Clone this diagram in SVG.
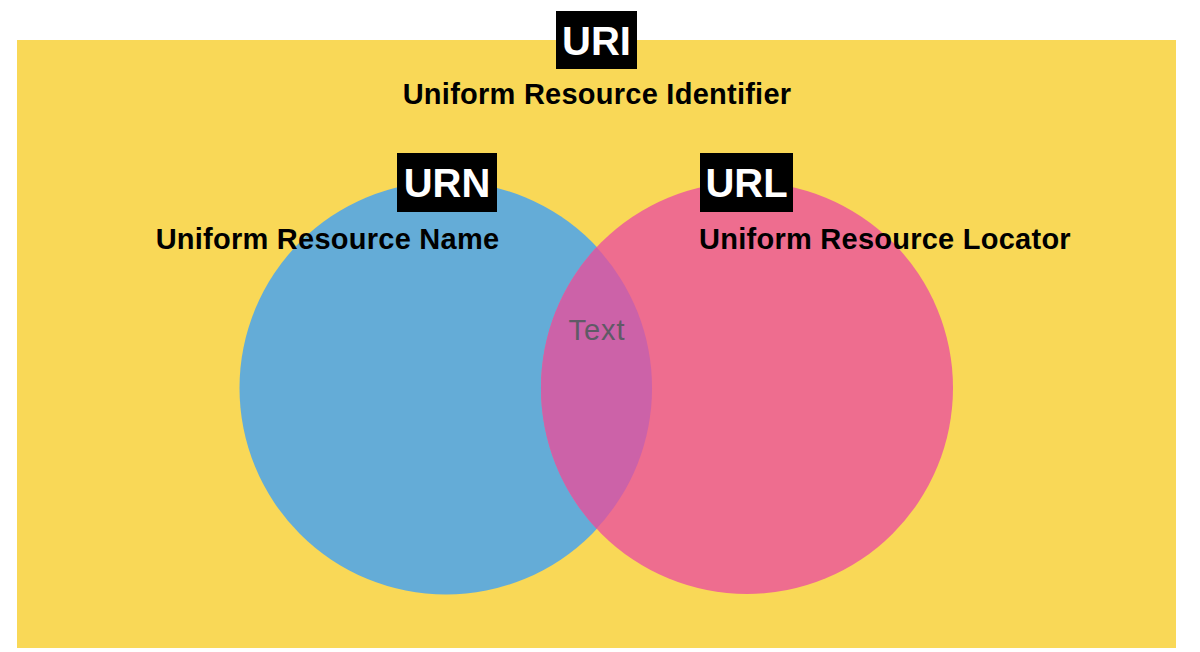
<svg xmlns="http://www.w3.org/2000/svg" width="1200" height="652" viewBox="0 0 1200 652">
<style>
.lbl{font-family:"Liberation Sans",Arial,sans-serif;font-weight:bold;font-size:29px;letter-spacing:0.25px;fill:#000;text-anchor:middle}
.tag{font-family:"Liberation Sans",Arial,sans-serif;font-weight:bold;font-size:40px;fill:#fff;text-anchor:middle}
.box{fill:#000}
</style>
<rect width="1200" height="652" fill="#fff"/>
<g id="uri">
<rect x="17" y="40" width="1159" height="608" fill="#f9d857"/>
</g>
<g id="urn">
<circle cx="446" cy="388" r="206.5" fill="#64acd7"/>
</g>
<g id="url">
<circle cx="747" cy="388" r="206" fill="#ee6d8f"/>
</g>
<g id="overlap">
<path d="M596.5,247.3 A206,206 0 0,1 596.5,528.7 A206,206 0 0,1 596.5,247.3 Z" fill="#cc62a8"/>
<text x="597" y="340" font-family="Liberation Sans,Arial,sans-serif" font-size="29" letter-spacing="1" fill="#5f5a66" text-anchor="middle">Text</text>
</g>
<g id="uri-label">
<rect class="box" x="556" y="11" width="81" height="58"/>
<text class="tag" x="596.5" y="55">URI</text>
<text class="lbl" x="597" y="104">Uniform Resource Identifier</text>
</g>
<g id="urn-label">
<rect class="box" x="397" y="153" width="100" height="59"/>
<text class="tag" x="447" y="197">URN</text>
<text class="lbl" x="327.5" y="249">Uniform Resource Name</text>
</g>
<g id="url-label">
<rect class="box" x="700" y="153" width="93" height="59"/>
<text class="tag" x="746.5" y="197">URL</text>
<text class="lbl" x="885" y="249">Uniform Resource Locator</text>
</g>
<g id="connectors"/>
</svg>
